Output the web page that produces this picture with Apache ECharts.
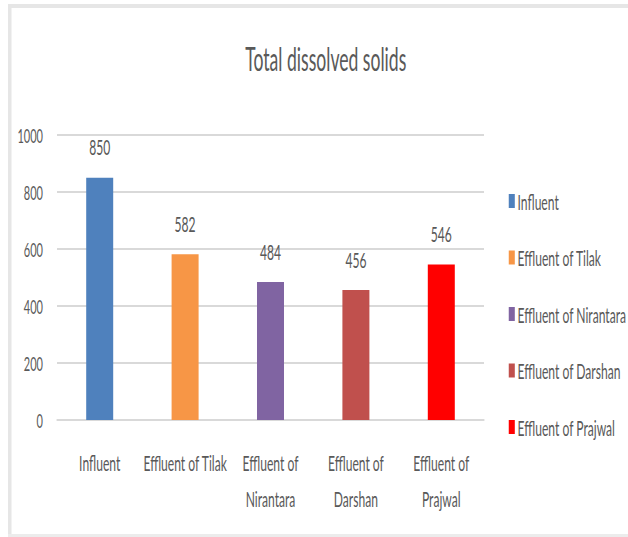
<!DOCTYPE html>
<html>
<head>
<meta charset="utf-8">
<title>Total dissolved solids</title>
<script src="https://cdn.jsdelivr.net/npm/echarts@6/dist/echarts.min.js"></script>
<style>
  html, body { margin: 0; padding: 0; background: #ffffff; overflow: hidden; }
  #wrap { width: 628px; height: 537px; overflow: hidden; position: relative; }
  #chart { position: absolute; left: 0; top: 0; transform-origin: 0 0; }
</style>
</head>
<body>
<div id="wrap"><div id="chart"></div></div>
<script>
// Chart data
const categories = ['Influent', 'Effluent of Tilak', 'Effluent of Nirantara', 'Effluent of Darshan', 'Effluent of Prajwal'];
const tickLabels = ['Influent', 'Effluent of Tilak', 'Effluent of\nNirantara', 'Effluent of\nDarshan', 'Effluent of\nPrajwal'];
const values = [850, 582, 484, 456, 546];
const colors = ['#4F81BD', '#F79646', '#8064A2', '#C0504D', '#FF0000'];
const yMin = 0, yMax = 1000, yStep = 200;

// The chart uses a condensed look: drawn wide, then squeezed horizontally.
const S = 0.55;
const X = v => v / S;
const W = 628, H = 537;

const el = document.getElementById('chart');
el.style.width = X(W) + 'px';
el.style.height = H + 'px';
el.style.transform = 'scaleX(' + S + ')';

const chart = echarts.init(el, null, { renderer: 'svg', width: X(W), height: H });
const FONT = 'Lato, "Open Sans", sans-serif';
const TXT = '#595959';

const series = categories.map((name, i) => ({
  type: 'bar',
  name: name,
  barWidth: X(27),
  barGap: '-100%',
  itemStyle: { color: colors[i] },
  label: {
    show: true,
    position: 'top',
    distance: 20,
    color: TXT,
    fontFamily: FONT,
    fontSize: 22
  },
  data: values.map((v, j) => (j === i ? v : '-'))
}));

chart.setOption({
  animation: false,
  backgroundColor: '#ffffff',
  title: {
    text: 'Total dissolved solids',
    left: X(323),
    top: 35,
    textAlign: 'center',
    textStyle: { color: TXT, fontFamily: FONT, fontSize: 32, fontWeight: 'normal', lineHeight: 38 }
  },
  legend: {
    orient: 'vertical',
    left: X(506),
    top: 185,
    itemWidth: 11,
    itemHeight: 14,
    itemGap: 34.5,
    icon: 'rect',
    data: categories,
    textStyle: { color: TXT, fontFamily: FONT, fontSize: 22, lineHeight: 22 }
  },
  grid: {
    left: X(57),
    right: X(W - 484),
    top: 135,
    bottom: H - 420,
    containLabel: false
  },
  xAxis: {
    type: 'category',
    data: categories,
    axisLine: { lineStyle: { color: '#d9d9d9', width: 2 } },
    axisTick: { show: false },
    axisLabel: {
      interval: 0,
      margin: 24,
      color: TXT,
      fontFamily: FONT,
      fontSize: 22,
      lineHeight: 36,
      formatter: (v, i) => tickLabels[i]
    }
  },
  yAxis: {
    type: 'value',
    min: yMin,
    max: yMax,
    interval: yStep,
    axisLine: { show: false },
    axisTick: { show: false },
    splitLine: { lineStyle: { color: '#d9d9d9', width: 2 } },
    axisLabel: { margin: X(14), color: TXT, fontFamily: FONT, fontSize: 20, formatter: v => String(v) }
  },
  graphic: [
    // outer chart frame
    { type: 'rect', silent: true, shape: { x: X(8), y: 4, width: X(W), height: 4 }, style: { fill: '#e6e6e6' } },
    { type: 'rect', silent: true, shape: { x: X(8), y: 4, width: X(3.5), height: 533 }, style: { fill: '#e6e6e6' } },
    { type: 'rect', silent: true, shape: { x: X(8), y: 534, width: X(W), height: 3 }, style: { fill: '#ececec' } }
  ],
  series: series
});
</script>
</body>
</html>
